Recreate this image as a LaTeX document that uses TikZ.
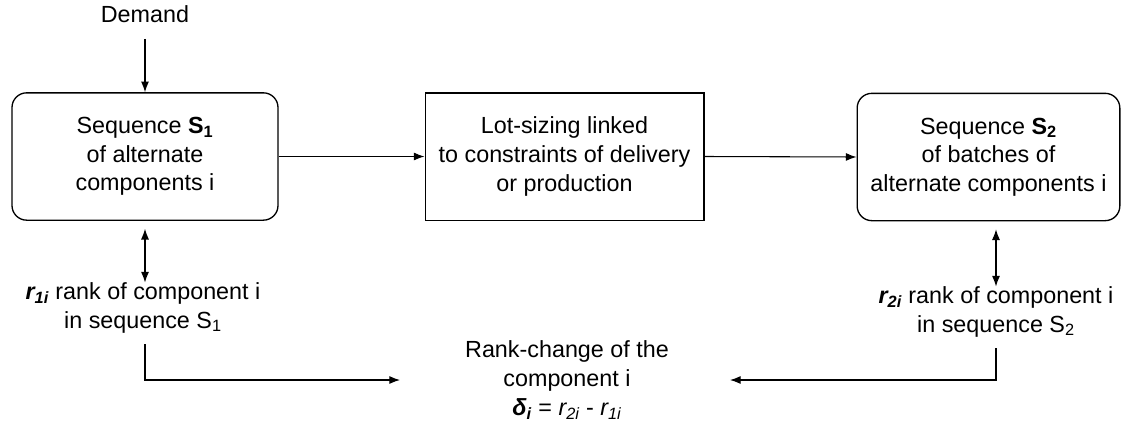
\documentclass[tikz,border=0pt]{standalone}
\usepackage{fontspec}
\setmainfont{Liberation Sans}
\usetikzlibrary{arrows.meta}
\begin{document}
\begin{tikzpicture}[x=0.75pt,y=-0.75pt,
 every node/.style={font=\fontsize{17.5}{21.5}\selectfont, align=center, inner sep=0pt},
 box/.style={draw, line width=1pt, minimum height=95.5pt},
 rbox/.style={box, rounded corners=11pt},
 arr/.style={line width=0.8pt, -{Latex[length=8pt,width=6pt]}},
 darr/.style={line width=0.8pt, {Latex[length=8pt,width=6pt]}-{Latex[length=8pt,width=6pt]}}]
\useasboundingbox (0,0) rectangle (1122,425);
\node (dem) at (145,14) {Demand};
\node[rbox, minimum width=199.5pt] (b1) at (145,156.5) {Sequence \textbf{S\textsubscript{1}}\\of alternate\\components i};
\node[box, minimum width=209pt] (b2) at (564.5,156.5) {Lot-sizing linked\\to constraints of delivery\\or production};
\node[rbox, minimum width=197pt] (b3) at (988.5,157) {Sequence \textbf{S\textsubscript{2}}\\of batches of\\alternate components i};
\node (r1) at (143,308) {\textbf{\textit{r\textsubscript{1i}}} rank of component i\\in sequence S\textsubscript{1}};
\node (r2) at (996,312) {\textbf{\textit{r\textsubscript{2i}}} rank of component i\\in sequence S\textsubscript{2}};
\node (rc) at (567,380) {Rank-change of the\\component i\\\textbf{\textit{δ\textsubscript{i}}} = \textit{r\textsubscript{2i}} - \textit{r\textsubscript{1i}}};
\coordinate (c1) at (400,380);
\coordinate (c2) at (730,380);
\draw[arr] (dem.south) ++(0,16) -- (b1.north);
\draw[arr] (b1.east) -- (b2.west);
\draw[arr] (b2.east) -- (b3.west);
\draw[darr] (b1.south) ++(0,8) -- (b1.south |- r1.north);
\draw[darr] (r2.north |- b3.south) ++(0,8) -- (r2.north);
\draw[arr] (b1.south |- r1.south) ++(0,11) |- (c1);
\draw[arr] (r2.south) ++(0,11) |- (c2);
\end{tikzpicture}
\end{document}
